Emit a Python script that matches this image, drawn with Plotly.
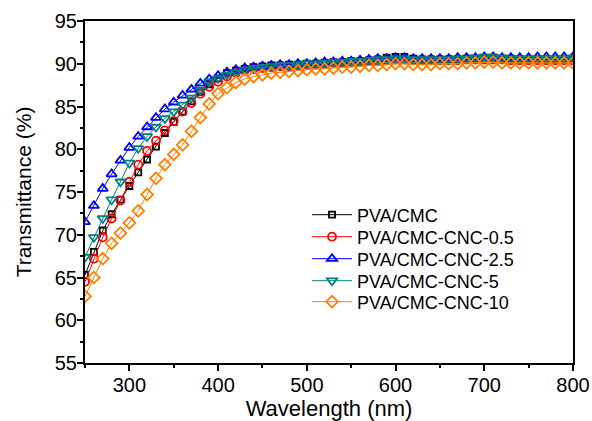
import plotly.graph_objects as go

wavelength = list(range(250, 801, 10))

pva_cmc = [65.3, 68.0, 70.5, 72.4, 74.1, 75.7, 77.3, 78.8, 80.3, 81.9,
           83.2, 84.4, 85.6, 86.7, 87.6, 88.3, 88.9, 89.2, 89.4, 89.6,
           89.7, 89.8, 89.8, 89.9, 89.9, 90.0, 90.0, 90.1, 90.2, 90.2,
           90.3, 90.3, 90.4, 90.5, 90.7, 90.8, 90.8, 90.6, 90.5, 90.5,
           90.5, 90.5, 90.5, 90.6, 90.6, 90.7, 90.7, 90.6, 90.6, 90.5,
           90.5, 90.5, 90.5, 90.5, 90.5, 90.6]
cnc_05 = [64.5, 67.2, 69.7, 71.9, 74.0, 76.2, 78.2, 79.8, 81.0, 82.2,
          83.3, 84.4, 85.4, 86.5, 87.3, 87.9, 88.5, 88.9, 89.2, 89.4,
          89.5, 89.6, 89.7, 89.7, 89.8, 89.9, 89.9, 90.0, 90.1, 90.1,
          90.2, 90.2, 90.3, 90.3, 90.4, 90.5, 90.5, 90.4, 90.4, 90.4,
          90.4, 90.4, 90.4, 90.5, 90.5, 90.5, 90.5, 90.5, 90.4, 90.4,
          90.4, 90.4, 90.4, 90.4, 90.4, 90.4]
cnc_25 = [71.5, 73.4, 75.4, 77.1, 78.7, 80.2, 81.5, 82.6, 83.7, 84.7,
          85.5, 86.3, 87.0, 87.7, 88.2, 88.6, 89.0, 89.3, 89.5, 89.6,
          89.7, 89.8, 89.9, 89.9, 90.0, 90.0, 90.1, 90.2, 90.2, 90.3,
          90.3, 90.4, 90.5, 90.6, 90.6, 90.7, 90.7, 90.6, 90.6, 90.6,
          90.6, 90.6, 90.7, 90.7, 90.7, 90.8, 90.8, 90.7, 90.7, 90.7,
          90.7, 90.8, 90.8, 90.8, 90.8, 90.8]
cnc_5 = [67.4, 69.7, 71.9, 74.1, 76.2, 78.4, 80.1, 81.5, 82.6, 83.6,
         84.4, 85.2, 86.0, 86.9, 87.9, 88.3, 88.7, 89.0, 89.3, 89.5,
         89.6, 89.7, 89.8, 89.8, 89.9, 90.0, 90.0, 90.1, 90.2, 90.2,
         90.3, 90.3, 90.4, 90.5, 90.5, 90.6, 90.6, 90.5, 90.5, 90.5,
         90.5, 90.5, 90.6, 90.6, 90.7, 90.8, 90.8, 90.7, 90.6, 90.6,
         90.6, 90.6, 90.6, 90.6, 90.6, 90.7]
cnc_10 = [62.8, 65.0, 67.2, 69.0, 70.2, 71.4, 72.8, 74.7, 76.6, 78.2,
          79.4, 80.5, 82.1, 83.7, 85.3, 86.5, 87.2, 87.8, 88.2, 88.5,
          88.7, 88.9, 89.0, 89.1, 89.2, 89.3, 89.4, 89.4, 89.5, 89.6,
          89.6, 89.7, 89.8, 89.8, 89.9, 90.0, 90.0, 89.9, 89.9, 89.9,
          90.0, 90.0, 90.0, 90.1, 90.1, 90.2, 90.2, 90.1, 90.1, 90.1,
          90.1, 90.1, 90.1, 90.1, 90.1, 90.1]

series_names = ["PVA/CMC", "PVA/CMC-CNC-0.5", "PVA/CMC-CNC-2.5",
                "PVA/CMC-CNC-5", "PVA/CMC-CNC-10"]
series_values = [pva_cmc, cnc_05, cnc_25, cnc_5, cnc_10]
colors = ["#000000", "#FF0000", "#0000FF", "#008080", "#FF8000"]
symbols = ["square-open", "circle-open", "triangle-up-open",
           "triangle-down-open", "diamond-open"]
sizes = [6, 8, 9, 9, 9]

FONT = "Arial, Liberation Sans, sans-serif"

W, H = 592, 421
L, R, T, B = 85, 19, 21, 58
plot_h = H - T - B

fig = go.Figure()
legend_ids = ["legend", "legend2", "legend3", "legend4", "legend5"]
legend_rows_px = [215, 237, 259, 281, 302]
for name, vals, c, s, sz, lid in zip(series_names, series_values, colors,
                                       symbols, sizes, legend_ids):
    fig.add_trace(go.Scatter(
        x=wavelength, y=vals, name=name, mode="lines+markers",
        line=dict(color=c, width=1),
        marker=dict(symbol=s, size=sz, color=c, line=dict(color=c, width=1.8)),
        legend=lid,
    ))

layout_legends = {}
for lid, py in zip(legend_ids, legend_rows_px):
    layout_legends[lid] = dict(
        x=0.455, y=(H - B - py) / plot_h, xanchor="left", yanchor="middle",
        bgcolor="rgba(0,0,0,0)", font=dict(size=18, family=FONT),
        itemwidth=40, borderwidth=0,
    )

fig.update_layout(
    width=W, height=H,
    margin=dict(l=L, r=R, t=T, b=B),
    paper_bgcolor="white", plot_bgcolor="white",
    font=dict(family=FONT, size=20, color="#000000"),
    showlegend=True,
    **layout_legends,
)
fig.update_xaxes(
    range=[250, 800], dtick=100, tick0=0, automargin=False,
    showline=True, linecolor="black", linewidth=2, mirror=True,
    ticks="outside", ticklen=6, tickwidth=1.5, tickcolor="black",
    ticklabelstandoff=-3,
    minor=dict(ticks="outside", ticklen=3, dtick=50, tick0=0,
               tickcolor="black", tickwidth=1.5),
    showgrid=False, zeroline=False,
    title=dict(text="Wavelength (nm)", font=dict(size=22), standoff=8),
    tickfont=dict(size=20),
)
fig.update_yaxes(
    range=[55, 95], dtick=5, tick0=0, automargin=False,
    showline=True, linecolor="black", linewidth=2, mirror=True,
    ticks="outside", ticklen=6, tickwidth=1.5, tickcolor="black",
    ticklabelstandoff=-4,
    minor=dict(ticks="outside", ticklen=3, dtick=2.5, tick0=0,
               tickcolor="black", tickwidth=1.5),
    showgrid=False, zeroline=False,
    title=dict(text="Transmittance (%)", font=dict(size=21), standoff=17),
    tickfont=dict(size=20),
)

fig.write_html(
    "out.html",
    config={"displayModeBar": False},
    post_script="document.body.style.margin='0';"
                "document.body.style.overflow='hidden';",
)
